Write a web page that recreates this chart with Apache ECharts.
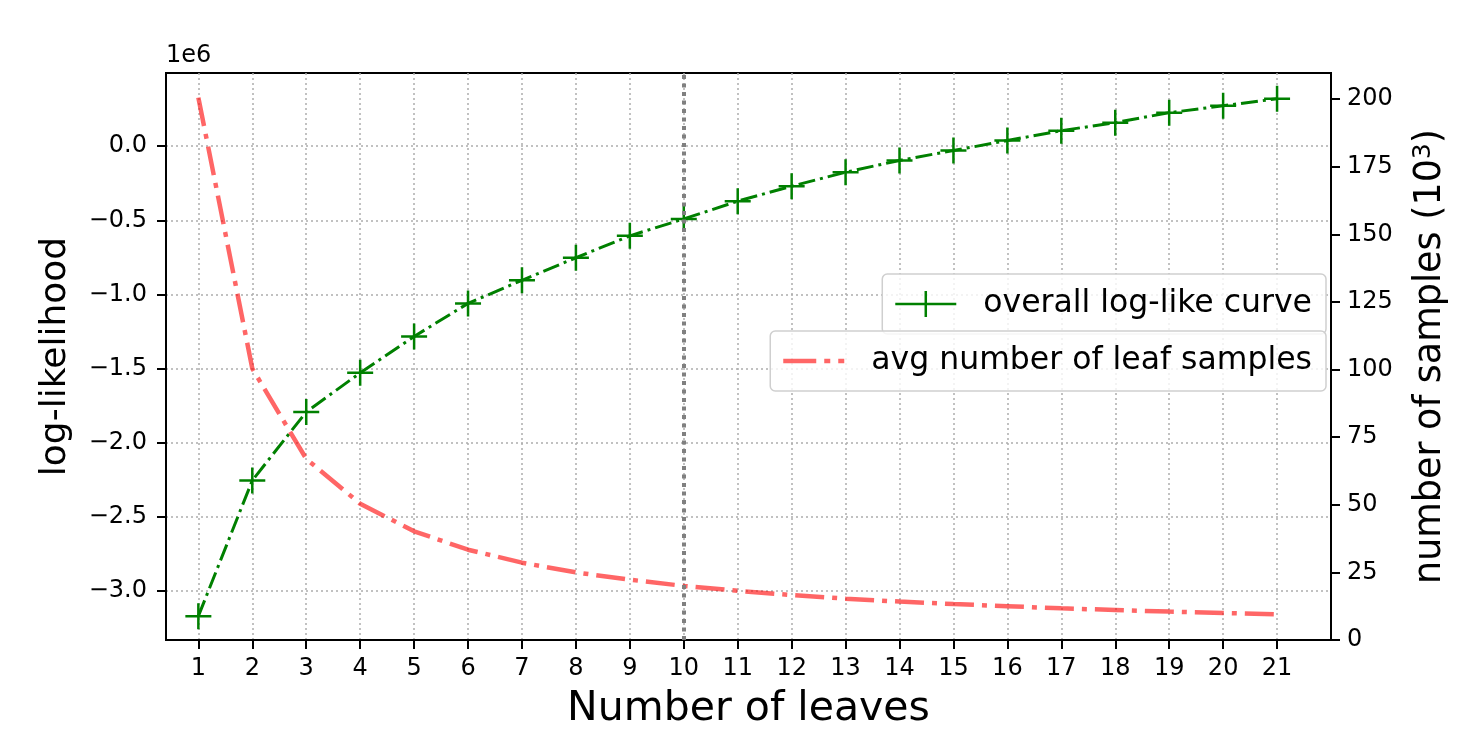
<!DOCTYPE html>
<html>
<head>
<meta charset="utf-8">
<script src="https://cdn.jsdelivr.net/npm/echarts@6/dist/echarts.min.js"></script>
<style>
  html, body { margin: 0; padding: 0; background: #fff; }
  #chart { width: 1457px; height: 735px; }
</style>
</head>
<body>
<div id="chart"></div>
<script>
// ---- data ----
const leaves = [1, 2, 3, 4, 5, 6, 7, 8, 9, 10, 11, 12, 13, 14, 15, 16, 17, 18, 19, 20, 21];
const logLikelihood = [-3172000, -2256000, -1794000, -1530000, -1284000, -1061000, -905000, -753000, -605000, -491000,
  -371000, -270000, -176000, -96000, -29000, 38000, 105000, 159000, 226000, 273000, 320000];
const avgLeafSamples = [200.6, 100.4, 67.0, 50.4, 40.2, 33.4, 28.6, 25.0, 22.3, 20.0,
  18.2, 16.6, 15.3, 14.2, 13.3, 12.5, 11.7, 11.1, 10.5, 10.0, 9.5];
const xTicks = [1, 2, 3, 4, 5, 6, 7, 8, 9, 10, 11, 12, 13, 14, 15, 16, 17, 18, 19, 20, 21];
const leftTicks = [-3000000, -2500000, -2000000, -1500000, -1000000, -500000, 0];
const rightTicks = [0, 25, 50, 75, 100, 125, 150, 175, 200];
const chosenLeaves = 10;
const seriesNames = ['overall log-like curve', 'avg number of leaf samples'];

const FONT = 'DejaVu Sans';
const GREEN = '#008000';
const RED = 'rgba(255,0,0,0.6)';
const chart = echarts.init(document.getElementById('chart'), null, { renderer: 'canvas' });

const greenData = leaves.map((x, i) => [x, logLikelihood[i]]);
const redData = leaves.map((x, i) => [x, avgLeafSamples[i]]);

const legendCommon = {
  orient: 'vertical',
  right: 131,
  selectedMode: false,
  symbolKeepAspect: true,
  itemWidth: 61,
  itemHeight: 26,
  padding: [14, 14, 14, 13],
  borderColor: '#cfcfcf',
  borderWidth: 1.5,
  borderRadius: 5,
  backgroundColor: 'rgba(255,255,255,0.8)',
  textStyle: { fontFamily: FONT, fontSize: 31.5, color: '#000', padding: [0, 0, 0, 22] }
};

const option = {
  animation: false,
  backgroundColor: '#fff',
  grid: {
    left: 166, right: 117, top: 73, bottom: 91,
    show: true, borderColor: '#000', borderWidth: 2, backgroundColor: 'transparent'
  },
  graphic: [{
    type: 'text', left: 166, top: 44,
    style: { text: '1e6', fontFamily: FONT, fontSize: 24, fill: '#000' }
  }],
  legend: [
    Object.assign({}, legendCommon, {
      top: 274,
      data: [{
        name: seriesNames[0],
        icon: 'path://M0,11.75h61v2.5h-61z M29.25,0h2.5v26h-2.5z',
        itemStyle: { color: GREEN, borderWidth: 0 }
      }]
    }),
    Object.assign({}, legendCommon, {
      top: 331,
      data: [{
        name: seriesNames[1],
        icon: 'path://M0,0h33v4.5h-33z M41,0h6v4.5h-6z M55,0h6v4.5h-6z',
        itemStyle: { color: RED, borderWidth: 0 }
      }]
    })
  ],
  xAxis: {
    type: 'value', min: 0.4, max: 22,
    name: 'Number of leaves', nameLocation: 'middle', nameGap: 49,
    nameTextStyle: { fontFamily: FONT, fontSize: 41, color: '#000' },
    axisLine: { show: true, onZero: false, lineStyle: { color: '#000', width: 2 } },
    axisTick: { show: true, customValues: xTicks, length: 9, inside: false, lineStyle: { color: '#000', width: 2 } },
    axisLabel: { customValues: xTicks, margin: 17, fontFamily: FONT, fontSize: 24, color: '#000' },
    splitLine: { show: true, lineStyle: { color: '#adadad', width: 1.5, type: [2, 3] } }
  },
  yAxis: [{
    type: 'value', position: 'left', min: -3333000, max: 494000,
    name: 'log-likelihood', nameLocation: 'middle', nameGap: 92, nameRotate: 90,
    nameTextStyle: { fontFamily: FONT, fontSize: 36, color: '#000' },
    axisLine: { show: true, onZero: false, lineStyle: { color: '#000', width: 2 } },
    axisTick: { show: true, customValues: leftTicks, length: 9, lineStyle: { color: '#000', width: 2 } },
    axisLabel: {
      customValues: leftTicks, margin: 19, fontFamily: FONT, fontSize: 24, color: '#000',
      formatter: v => (v / 1e6).toFixed(1).replace('-', '\u2212')
    },
    splitLine: { show: true, lineStyle: { color: '#adadad', width: 1.5, type: [2, 3] } }
  }, {
    type: 'value', position: 'right', min: 0, max: 209.7,
    name: 'number of samples (10{sup|3})', nameLocation: 'middle', nameGap: 80, nameRotate: 90,
    nameTextStyle: {
      fontFamily: FONT, fontSize: 36.5, color: '#000',
      rich: { sup: { fontFamily: FONT, fontSize: 25, color: '#000', verticalAlign: 'top', padding: [0, 0, 14, 0] } }
    },
    axisLine: { show: true, onZero: false, lineStyle: { color: '#000', width: 2 } },
    axisTick: { show: true, customValues: rightTicks, length: 9, lineStyle: { color: '#000', width: 2 } },
    axisLabel: { customValues: rightTicks, margin: 16, fontFamily: FONT, fontSize: 24, color: '#000' },
    splitLine: { show: false }
  }],
  series: [{
    name: seriesNames[0],
    type: 'line',
    yAxisIndex: 0,
    data: greenData,
    z: 3,
    color: GREEN,
    symbol: 'path://M13,0L13,26M0,13L26,13',
    symbolSize: 26,
    showAllSymbol: true,
    itemStyle: { color: GREEN, borderColor: GREEN, borderWidth: 2.5 },
    lineStyle: { color: GREEN, width: 3, type: [17, 5, 3, 5] },
    emphasis: { disabled: true },
    markLine: {
      silent: true,
      symbol: ['none', 'none'],
      label: { show: false },
      lineStyle: { color: '#808080', width: 4, type: [4, 4.5] },
      data: [{ xAxis: chosenLeaves }]
    }
  }, {
    name: seriesNames[1],
    type: 'line',
    yAxisIndex: 1,
    data: redData,
    z: 4,
    color: RED,
    symbol: 'none',
    lineStyle: { color: 'rgb(255,0,0)', opacity: 0.6, width: 4.5, type: [29, 8, 5, 8] },
    emphasis: { disabled: true }
  }]
};

chart.setOption(option);
</script>
</body>
</html>
